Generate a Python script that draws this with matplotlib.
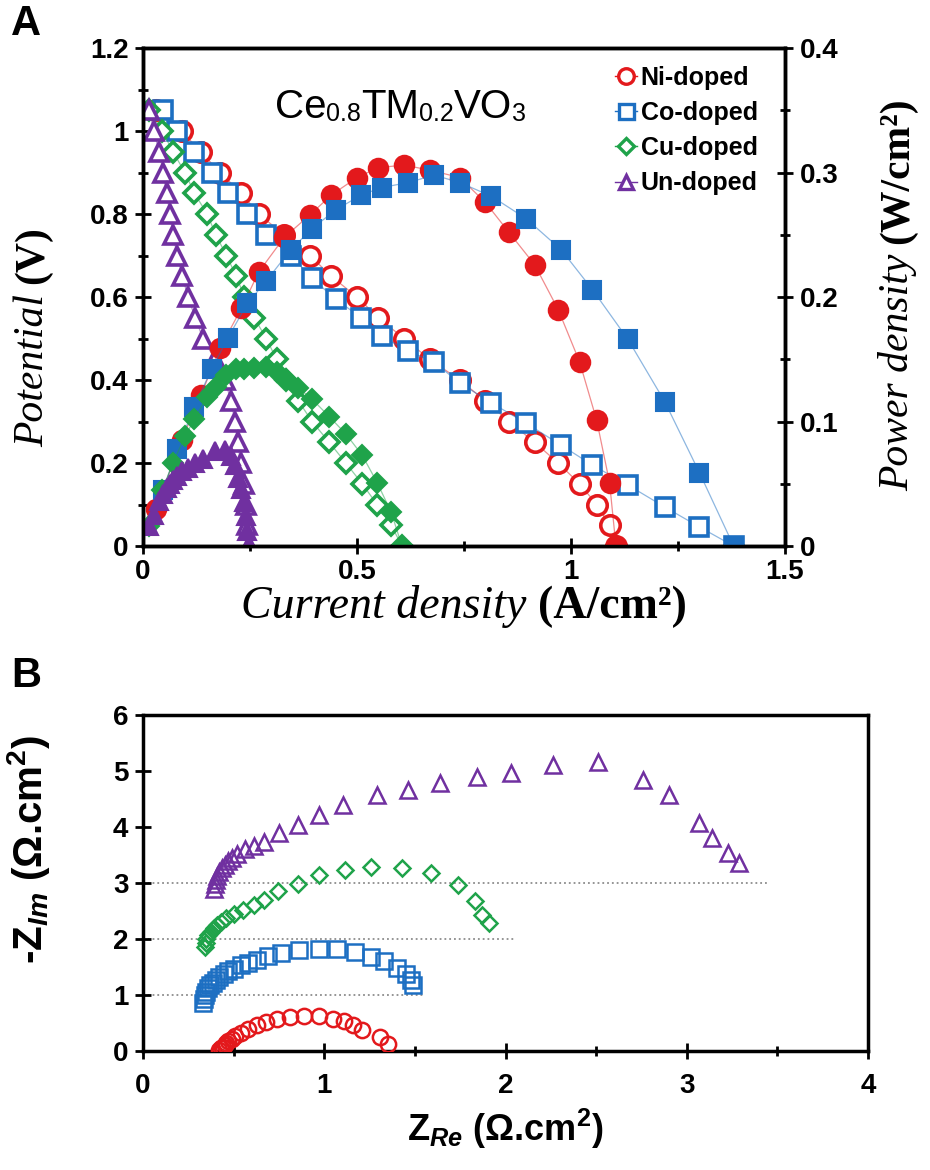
import matplotlib
matplotlib.use("Agg")
import matplotlib.pyplot as plt
from matplotlib.lines import Line2D
from matplotlib.ticker import MultipleLocator, FuncFormatter

plt.rcParams['font.family'] = ['Liberation Sans', 'DejaVu Sans']
plt.rcParams['mathtext.fontset'] = 'custom'
plt.rcParams['mathtext.rm'] = 'Liberation Sans:bold'
plt.rcParams['mathtext.it'] = 'Liberation Sans:italic:bold'
plt.rcParams['mathtext.bf'] = 'Liberation Sans:bold'
# - - - - - - - - - - - - - - - - - - - - - - - - - - - - - - - - - - - - - - - - - - #
# panel A : polarisation curves (current density A/cm2, potential V, power W/cm2)
labels = ["Ni-doped", "Co-doped", "Cu-doped", "Un-doped"]

v_levels = [1.05, 1.00, 0.95, 0.90, 0.85, 0.80, 0.75, 0.70, 0.65, 0.60, 0.55,
            0.50, 0.45, 0.40, 0.35, 0.30, 0.25, 0.20, 0.15, 0.10, 0.05, 0.0]

ni_j = [0.03, 0.09, 0.135, 0.18, 0.23, 0.27, 0.33, 0.39, 0.44, 0.50, 0.55,
        0.61, 0.67, 0.74, 0.80, 0.855, 0.915, 0.97, 1.02, 1.06, 1.09, 1.105]
ni_p = [0.03, 0.085, 0.121, 0.159, 0.191, 0.22, 0.248, 0.266, 0.282, 0.296, 0.304,
        0.306, 0.302, 0.296, 0.276, 0.252, 0.226, 0.19, 0.148, 0.101, 0.051, 0.0]

co_j = [0.047, 0.08, 0.12, 0.16, 0.198, 0.244, 0.288, 0.345, 0.395, 0.45, 0.51, 0.558,
        0.62, 0.68, 0.74, 0.814, 0.895, 0.977, 1.05, 1.133, 1.219, 1.30, 1.38]
co_v = [1.05, 1.00, 0.95, 0.90, 0.85, 0.80, 0.75, 0.70, 0.645, 0.595, 0.55, 0.505,
        0.47, 0.443, 0.393, 0.345, 0.296, 0.243, 0.195, 0.147, 0.094, 0.046, 0.0]
co_p = [0.045, 0.078, 0.112, 0.142, 0.167, 0.195, 0.213, 0.238, 0.255, 0.27, 0.282, 0.288,
        0.292, 0.298, 0.292, 0.281, 0.263, 0.238, 0.206, 0.166, 0.116, 0.059, 0.0]

cu_j = [0.015, 0.045, 0.07, 0.098, 0.12, 0.15, 0.17, 0.195, 0.218, 0.237, 0.26,
        0.288, 0.312, 0.335, 0.363, 0.395, 0.435, 0.474, 0.512, 0.547, 0.58, 0.605]
cu_p = [0.016, 0.045, 0.067, 0.088, 0.102, 0.12, 0.128, 0.137, 0.142, 0.142, 0.143,
        0.144, 0.14, 0.134, 0.127, 0.118, 0.104, 0.09, 0.073, 0.051, 0.027, 0.0]

un_j = [0.015, 0.025, 0.038, 0.047, 0.055, 0.063, 0.07, 0.08, 0.092, 0.105, 0.122,
        0.14, 0.168, 0.192, 0.205, 0.215, 0.221, 0.228, 0.236, 0.241, 0.244, 0.248]
un_p = [0.016, 0.025, 0.036, 0.042, 0.047, 0.05, 0.053, 0.056, 0.06, 0.063, 0.067,
        0.07, 0.076, 0.077, 0.072, 0.065, 0.055, 0.046, 0.035, 0.024, 0.012, 0.0]
# - - - - - - - - - - - - - - - - - - - - - - - - - - - - - - - - - - - - - - - - - - #
# panel B : impedance spectra (Z_Re, -Z_Im), offset curves
ni_zre = [0.42, 0.43, 0.44, 0.45, 0.46, 0.47, 0.49, 0.51, 0.54, 0.58, 0.63,
          0.68, 0.74, 0.81, 0.89, 0.97, 1.05, 1.11, 1.16, 1.21, 1.31, 1.35]
ni_zim = [0.02, 0.05, 0.08, 0.11, 0.14, 0.17, 0.21, 0.26, 0.32, 0.39, 0.46,
          0.52, 0.57, 0.61, 0.63, 0.62, 0.58, 0.53, 0.46, 0.38, 0.25, 0.12]

co_zre = [0.33, 0.335, 0.34, 0.35, 0.36, 0.37, 0.385, 0.40, 0.42, 0.445, 0.47, 0.50, 0.54, 0.58,
          0.63, 0.69, 0.76, 0.86, 0.97, 1.07, 1.17, 1.26, 1.33, 1.40, 1.45, 1.48, 1.49]
co_zim = [0.85, 0.93, 1.0, 1.06, 1.12, 1.17, 1.22, 1.27, 1.32, 1.37, 1.42, 1.47, 1.53, 1.58,
          1.63, 1.70, 1.75, 1.80, 1.83, 1.83, 1.77, 1.68, 1.60, 1.48, 1.38, 1.27, 1.18]

cu_zre = [0.34, 0.345, 0.35, 0.36, 0.375, 0.39, 0.41, 0.43, 0.46, 0.50, 0.55, 0.61,
          0.67, 0.745, 0.855, 0.97, 1.115, 1.26, 1.43, 1.59, 1.735, 1.83, 1.87, 1.91]
cu_zim = [1.85, 1.93, 2.0, 2.07, 2.13, 2.19, 2.25, 2.31, 2.38, 2.45, 2.52, 2.6,
          2.7, 2.85, 2.99, 3.14, 3.23, 3.29, 3.26, 3.17, 2.96, 2.67, 2.43, 2.28]

un_zre = [0.39, 0.395, 0.40, 0.41, 0.42, 0.435, 0.45, 0.47, 0.49, 0.52, 0.56, 0.61, 0.67, 0.75,
          0.855, 0.97, 1.105, 1.29, 1.46, 1.64, 1.84, 2.03, 2.26, 2.51, 2.76, 2.9, 3.07, 3.14,
          3.23, 3.29]
un_zim = [2.9, 2.98, 3.05, 3.12, 3.19, 3.26, 3.32, 3.39, 3.45, 3.52, 3.6, 3.66, 3.74, 3.89,
          4.04, 4.21, 4.39, 4.57, 4.66, 4.78, 4.9, 4.96, 5.1, 5.16, 4.84, 4.57, 4.07, 3.8,
          3.54, 3.36]

offset_levels = [1, 2, 3]
offset_ends = [1.55, 2.05, 3.45]
# - - - - - - - - - - - - - - - - - - - - - - - - - - - - - - - - - - - - - - - - - - #
RED = '#e3191c'
BLUE = '#1d6fc2'
GREEN = '#1fa34a'
PURPLE = '#7030a0'
SERIF = 'Liberation Serif'

fig = plt.figure(figsize=(9.3, 11.7), dpi=100)
ax1 = fig.add_axes([0.1538, 0.5333, 0.6903, 0.4256])
ax1b = ax1.twinx()
ax2 = fig.add_axes([0.1538, 0.1017, 0.7796, 0.2872])

fmt = FuncFormatter(lambda v, p: f"{v:g}")

def style_axis(ax):
    for s in ax.spines.values():
        s.set_linewidth(2.5)
    ax.tick_params(which='major', direction='inout', length=11, width=2,
                   labelsize=20, pad=5)
    ax.tick_params(which='minor', direction='inout', length=7, width=2)
    for lbl in ax.get_xticklabels() + ax.get_yticklabels():
        lbl.set_fontweight('bold')

# - - - - - - - - - - - - - - - - - - - - - - - - - - - - - - - - - - - - - - - - - - #
# panel A
series = [
    (ni_j, v_levels, ni_p, 'o', 14, RED),
    (co_j, co_v, co_p, 's', 13.5, BLUE),
    (cu_j, v_levels, cu_p, 'D', 10, GREEN),
    (un_j, v_levels, un_p, '^', 13, PURPLE),
]
handles = []
for j, v, p, mk, ms, col in series:
    ax1.plot(j, v, color=col, lw=0.9, alpha=0.5)
    ax1.plot(j, v, ls='none', marker=mk, ms=ms, mfc='white', mec=col, mew=2.6)
    ax1b.plot(j, p, color=col, lw=0.9, alpha=0.5)
    ax1b.plot(j, p, ls='none', marker=mk, ms=ms, mfc=col, mec=col, mew=1.5)
    handles.append(Line2D([], [], color=col, lw=1.0, alpha=1, marker=mk, ms=ms * 0.8,
                          mfc='white', mec=col, mew=2.4))

ax1.set_xlim(0, 1.5)
ax1.set_ylim(0, 1.2)
ax1b.set_ylim(0, 0.4)
ax1.xaxis.set_major_locator(MultipleLocator(0.5))
ax1.xaxis.set_minor_locator(MultipleLocator(0.25))
ax1.yaxis.set_major_locator(MultipleLocator(0.2))
ax1.yaxis.set_minor_locator(MultipleLocator(0.1))
ax1b.yaxis.set_major_locator(MultipleLocator(0.1))
ax1b.yaxis.set_minor_locator(MultipleLocator(0.05))
for a in (ax1.xaxis, ax1.yaxis, ax1b.yaxis):
    a.set_major_formatter(fmt)
style_axis(ax1)
style_axis(ax1b)
ax1.tick_params(axis='x', pad=4)

leg = ax1b.legend(handles, labels, loc='upper right', bbox_to_anchor=(0.985, 1.0),
                  frameon=False, handlelength=0.9, handletextpad=0.15, labelspacing=0.45,
                  borderaxespad=0.3,
                  prop={'family': 'Liberation Sans', 'weight': 'bold', 'size': 18})

# formula label with small-number subscripts on the baseline
parts = [("Ce", 29), ("0.8", 18), ("TM", 29), ("0.2", 18), ("VO", 29), ("3", 18)]
prev = ax1.text(0.205, 0.86, parts[0][0], transform=ax1.transAxes, fontsize=parts[0][1],
                va='baseline', ha='left')
for s, sz in parts[1:]:
    prev = ax1.annotate(s, xy=(1, 0), xycoords=prev, fontsize=sz, va='bottom', ha='left')

# axis labels, italic words + bold units
t = fig.text(0.578, 0.463, "(A/cm²)", family=SERIF, weight='bold', size=33,
             ha='left', va='bottom')
ax1.annotate("Current density ", xy=(0, 0), xycoords=t, family=SERIF, style='italic',
             size=33, ha='right', va='bottom', annotation_clip=False)

t = fig.text(0.035, 0.618, "Potential ", family=SERIF, style='italic', size=30,
             rotation=90, ha='center', va='bottom')
ax1.annotate("(V)", xy=(0.5, 1), xycoords=t, family=SERIF, weight='bold', size=30,
             rotation=90, ha='center', va='bottom', annotation_clip=False)

t = fig.text(0.965, 0.58, "Power density ", family=SERIF, style='italic', size=30,
             rotation=90, ha='center', va='bottom')
ax1b.annotate("(W/cm²)", xy=(0.5, 1), xycoords=t, family=SERIF, weight='bold', size=30,
              rotation=90, ha='center', va='bottom', annotation_clip=False)

fig.text(0.012, 0.962, "A", size=30, weight='bold', va='bottom', ha='left')
# - - - - - - - - - - - - - - - - - - - - - - - - - - - - - - - - - - - - - - - - - - #
# panel B
for lvl, end in zip(offset_levels, offset_ends):
    ax2.plot([0, end], [lvl, lvl], ls=':', color='#8c8c8c', lw=1.3, zorder=1)

b_series = [
    (ni_zre, ni_zim, 'o', 11, RED),
    (co_zre, co_zim, 's', 11, BLUE),
    (cu_zre, cu_zim, 'D', 8.5, GREEN),
    (un_zre, un_zim, '^', 11, PURPLE),
]
for zr, zi, mk, ms, col in b_series:
    ax2.plot(zr, zi, ls='none', marker=mk, ms=ms, mfc='none', mec=col, mew=1.8, zorder=3)

ax2.set_xlim(0, 4)
ax2.set_ylim(0, 6)
ax2.xaxis.set_major_locator(MultipleLocator(1))
ax2.xaxis.set_minor_locator(MultipleLocator(0.5))
ax2.yaxis.set_major_locator(MultipleLocator(1))
ax2.xaxis.set_major_formatter(fmt)
ax2.yaxis.set_major_formatter(fmt)
style_axis(ax2)
ax2.tick_params(axis='x', pad=10)

ax2.set_xlabel(r'$\mathrm{Z}_{Re}$ (Ω.cm$^\mathrm{2}$)', fontsize=26, fontweight='bold',
               labelpad=6)
ax2.set_ylabel(r'-$\mathrm{Z}_{Im}$ (Ω.cm$^\mathrm{2}$)', fontsize=29, fontweight='bold')
ax2.yaxis.set_label_coords(-0.125, 0.6)
fig.text(0.012, 0.405, "B", size=30, weight='bold', va='bottom', ha='left')

fig.savefig("out.png", dpi=100)
